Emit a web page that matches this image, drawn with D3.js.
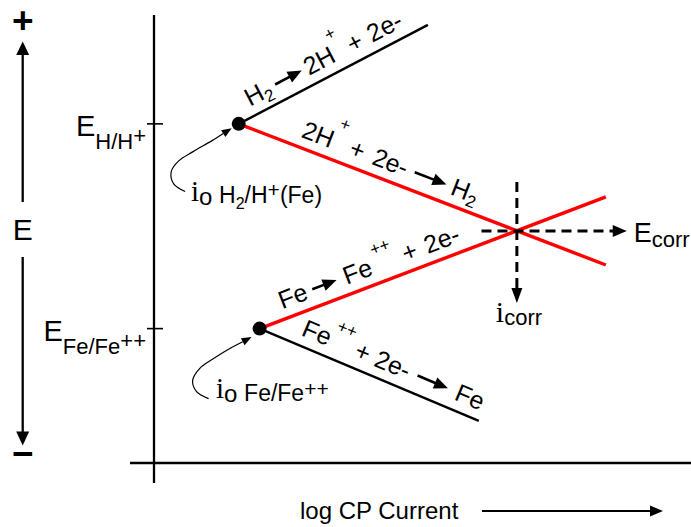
<!DOCTYPE html>
<html><head><meta charset="utf-8">
<script src="https://cdn.jsdelivr.net/npm/d3@7"></script>
<style>html,body{margin:0;padding:0;background:#fff;}svg{display:block;}</style>
</head><body>
<svg id="chart" width="691" height="527"></svg>
<script>
// ---- data (log current in decades, potential in arbitrary units) ----
const potentialTicks = [7.57, 3.0];            // E_H/H+, E_Fe/Fe++
const hydrogenAnodic   = [{i:1.58, E:7.57}, {i:5.11, E:9.78}];
const hydrogenCathodic = [{i:1.58, E:7.57}, {i:8.43, E:4.42}];
const ironAnodic       = [{i:1.97, E:3.0},  {i:8.43, E:5.94}];
const ironCathodic     = [{i:1.97, E:3.0},  {i:6.06, E:0.94}];
const exchangePoints   = [{i:1.58, E:7.57}, {i:1.97, E:3.0}];
const corrosionPoint   = {i:6.77, E:5.18};
const icorrLineE       = [6.27, 3.57];   // vertical dashed guide (E from..to)
const ecorrLineI       = [6.11, 8.82];   // horizontal dashed guide (log i from..to)

const FONT = '"Liberation Sans", Arial, Helvetica, sans-serif';
const SERIF = '"Liberation Serif", "Times New Roman", serif';

const svg = d3.select('#chart');
const x = d3.scaleLinear().domain([0, 10]).range([154, 690]);
const y = d3.scaleLinear().domain([0, 10]).range([463, 15]);

// ---- axes ----
svg.append('line').attr('x1', x(0)).attr('x2', x(0)).attr('y1', 15).attr('y2', 483)
  .attr('stroke', '#000').attr('stroke-width', 2.3);
svg.append('line').attr('x1', 130).attr('x2', 691).attr('y1', y(0)).attr('y2', y(0))
  .attr('stroke', '#000').attr('stroke-width', 2.3);
svg.selectAll('.ytick').data(potentialTicks).enter().append('line')
  .attr('x1', x(0) - 7).attr('x2', x(0) + 9).attr('y1', d => y(d)).attr('y2', d => y(d))
  .attr('stroke', '#000').attr('stroke-width', 1.6);

// tick labels
function tickLabel(val, main, sub, sup) {
  const t = svg.append('text').attr('x', 146).attr('y', y(val) + 12)
    .attr('text-anchor', 'end').attr('font-family', FONT).attr('fill', '#000');
  t.append('tspan').attr('font-size', 29).text(main);
  t.append('tspan').attr('font-size', 22).attr('dy', 13).text(sub);
  t.append('tspan').attr('font-size', 22).attr('dy', -6).text(sup);
}
tickLabel(potentialTicks[0], 'E', 'H/H', '+');
tickLabel(potentialTicks[1], 'E', 'Fe/Fe', '++');

// ---- left E arrow ----
const ax = 22.7;
svg.append('line').attr('x1', ax).attr('x2', ax).attr('y1', 52).attr('y2', 202).attr('stroke', '#000').attr('stroke-width', 2.3);
svg.append('path').attr('d', `M${ax},41.5 L${ax-6.5},55 L${ax+6.5},55 Z`).attr('fill', '#000');
svg.append('line').attr('x1', ax).attr('x2', ax).attr('y1', 257).attr('y2', 434).attr('stroke', '#000').attr('stroke-width', 2.3);
svg.append('path').attr('d', `M${ax},445.5 L${ax-6.5},431.5 L${ax+6.5},431.5 Z`).attr('fill', '#000');
svg.append('text').attr('x', ax).attr('y', 33).attr('text-anchor', 'middle').attr('font-family', FONT)
  .attr('font-weight', 'bold').attr('font-size', 37).text('+');
svg.append('text').attr('x', ax).attr('y', 466).attr('text-anchor', 'middle').attr('font-family', FONT)
  .attr('font-weight', 'bold').attr('font-size', 37).text('\u2212');
svg.append('text').attr('x', ax).attr('y', 240).attr('text-anchor', 'middle').attr('font-family', FONT)
  .attr('font-size', 30).text('E');

// ---- x label ----
svg.append('text').attr('x', 300).attr('y', 519).attr('font-family', FONT).attr('font-size', 24).text('log CP Current');
svg.append('line').attr('x1', 482).attr('x2', 652).attr('y1', 511).attr('y2', 511).attr('stroke', '#000').attr('stroke-width', 2);
svg.append('path').attr('d', 'M663,511 L650,505.5 L650,516.5 Z').attr('fill', '#000');

// ---- polarization lines ----
const line = d3.line().x(d => x(d.i)).y(d => y(d.E));
[[hydrogenAnodic, '#000', 2.4], [ironCathodic, '#000', 2.4],
 [hydrogenCathodic, '#ff0000', 3.4], [ironAnodic, '#ff0000', 3.4]].forEach(([d, c, w]) => {
  svg.append('path').attr('d', line(d)).attr('fill', 'none').attr('stroke', c).attr('stroke-width', w);
});

// ---- dashed corrosion guides ----
const cx = x(corrosionPoint.i), cy = y(corrosionPoint.E);
svg.append('line').attr('x1', cx).attr('x2', cx).attr('y1', y(icorrLineE[0])).attr('y2', y(icorrLineE[1]) - 14)
  .attr('stroke', '#000').attr('stroke-width', 3).attr('stroke-dasharray', '10,6');
svg.append('path').attr('d', `M${cx},${y(icorrLineE[1])} L${cx-5.5},${y(icorrLineE[1])-15} L${cx+5.5},${y(icorrLineE[1])-15} Z`).attr('fill', '#000');
svg.append('line').attr('x1', x(ecorrLineI[0])).attr('x2', x(ecorrLineI[1]) - 13).attr('y1', cy).attr('y2', cy)
  .attr('stroke', '#000').attr('stroke-width', 3).attr('stroke-dasharray', '10,6');
svg.append('path').attr('d', `M${x(ecorrLineI[1])},${cy} L${x(ecorrLineI[1])-14},${cy-6} L${x(ecorrLineI[1])-14},${cy+6} Z`).attr('fill', '#000');

// E_corr and i_corr labels
const ec = svg.append('text').attr('x', x(ecorrLineI[1]) + 7).attr('y', cy + 11).attr('font-family', FONT);
ec.append('tspan').attr('font-size', 27).text('E');
ec.append('tspan').attr('font-size', 22).attr('dy', 5).text('corr');
const ic = svg.append('text').attr('x', cx - 21).attr('y', y(icorrLineE[1]) + 19);
ic.append('tspan').attr('font-family', SERIF).attr('font-size', 30).text('i');
ic.append('tspan').attr('font-family', FONT).attr('font-size', 22).attr('dy', 3).text('corr');

// ---- exchange current dots ----
svg.selectAll('.dot').data(exchangePoints).enter().append('circle')
  .attr('cx', d => x(d.i)).attr('cy', d => y(d.E)).attr('r', 7).attr('fill', '#000');

// ---- curved annotation arrows ----
const curve = d3.line().curve(d3.curveCatmullRom.alpha(0.5));
function hookArrow(p, offs) {
  const px = x(p.i), py = y(p.E);
  const pts = offs.map(o => [px + o[0], py + o[1]]);
  const n = pts.length, tip = pts[n - 1], prev = pts[n - 2];
  const a = Math.atan2(tip[1] - prev[1], tip[0] - prev[0]);
  const L = 10, W = 4;
  const bx = tip[0] - L * Math.cos(a), by = tip[1] - L * Math.sin(a);
  svg.append('path').attr('d', curve(pts.slice(0, n - 1).concat([[bx, by]]))).attr('fill', 'none')
    .attr('stroke', '#000').attr('stroke-width', 1.2);
  svg.append('path').attr('d', `M${tip[0]},${tip[1]} L${bx - W * Math.sin(a)},${by + W * Math.cos(a)} L${bx + W * Math.sin(a)},${by - W * Math.cos(a)} Z`).attr('fill', '#000');
}
hookArrow(exchangePoints[0], [[-53.5, 67.7], [-65, 60], [-67.5, 48], [-60, 37], [-46, 28], [-27, 17], [-7, 4.3]]);
hookArrow(exchangePoints[1], [[-51, 70], [-63, 63], [-67, 52], [-60, 40], [-46, 30], [-28, 19], [-8, 8.5]]);

// i_o labels
function ioLabel(px, py, parts) {
  const t = svg.append('text').attr('x', px).attr('y', py);
  t.append('tspan').attr('font-family', SERIF).attr('font-size', 29).text('i');
  t.append('tspan').attr('font-family', FONT).attr('font-size', 24).attr('dy', 4).text('o ');
  parts.forEach(pt => {
    t.append('tspan').attr('font-family', FONT).attr('font-size', pt[1]).attr('dy', pt[2]).text(pt[0]);
  });
}
ioLabel(191, 201, [['H', 23, -2], ['2', 16, 6], ['/H', 23, -6], ['+', 21, -6], ['(Fe)', 23, 6]]);
ioLabel(216, 398, [['Fe/Fe', 23, -1], ['++', 21, -5]]);

// ---- rotated reaction labels ----
function rotatedLabel(seg, startX, segs, supDy) {
  const p0 = seg[0], p1 = seg[1];
  const x0 = x(p0.i), y0 = y(p0.E), x1 = x(p1.i), y1 = y(p1.E);
  const ang = Math.atan2(y1 - y0, x1 - x0) * 180 / Math.PI;
  const g = svg.append('g').attr('transform', `translate(${x0},${y0}) rotate(${ang})`);
  const base = -10;
  let c = startX;
  segs.forEach(s => {
    if (s.gap !== undefined) { c += s.gap; return; }
    if (s.arrow !== undefined) {
      const ay = base - 8;
      g.append('line').attr('x1', c).attr('x2', c + s.arrow - 10).attr('y1', ay).attr('y2', ay)
        .attr('stroke', '#000').attr('stroke-width', 2.6);
      g.append('path').attr('d', `M${c + s.arrow},${ay} L${c + s.arrow - 14},${ay - 6} L${c + s.arrow - 14},${ay + 6} Z`).attr('fill', '#000');
      c += s.arrow; return;
    }
    const size = (s.sub || s.sup) ? 17 : 25;
    const dy = s.sub ? 5 : s.sup ? supDy : 0;
    const t = g.append('text').attr('x', c).attr('y', base + dy).attr('font-family', FONT)
      .attr('font-size', size).text(s.t);
    c += t.node().getComputedTextLength();
  });
}
rotatedLabel(hydrogenAnodic, 18, [
  {t: 'H'}, {t: '2', sub: true}, {gap: 5}, {arrow: 30}, {gap: 4}, {t: '2H'}, {gap: 1}, {t: '+', sup: true},
  {gap: 6}, {t: '+'}, {gap: 8}, {t: '2e-'}], -22);
rotatedLabel(hydrogenCathodic, 62, [
  {t: '2H'}, {gap: 1}, {t: '+', sup: true}, {gap: 8}, {t: '+'}, {gap: 10}, {t: '2e-'}, {gap: 8},
  {arrow: 34}, {gap: 6}, {t: 'H'}, {t: '2', sub: true}], -22);
rotatedLabel(ironAnodic, 28, [
  {t: 'Fe'}, {gap: 6}, {arrow: 26}, {gap: 8}, {t: 'Fe'}, {gap: 5}, {t: '++', sup: true}, {gap: 9},
  {t: '+'}, {gap: 9}, {t: '2e-'}], -18);
rotatedLabel(ironCathodic, 40, [
  {t: 'Fe'}, {gap: 2}, {t: '++', sup: true}, {gap: 6}, {t: '+'}, {gap: 7}, {t: '2e-'}, {gap: 9},
  {arrow: 33}, {gap: 9}, {t: 'Fe'}], -18);
</script>
</body></html>
